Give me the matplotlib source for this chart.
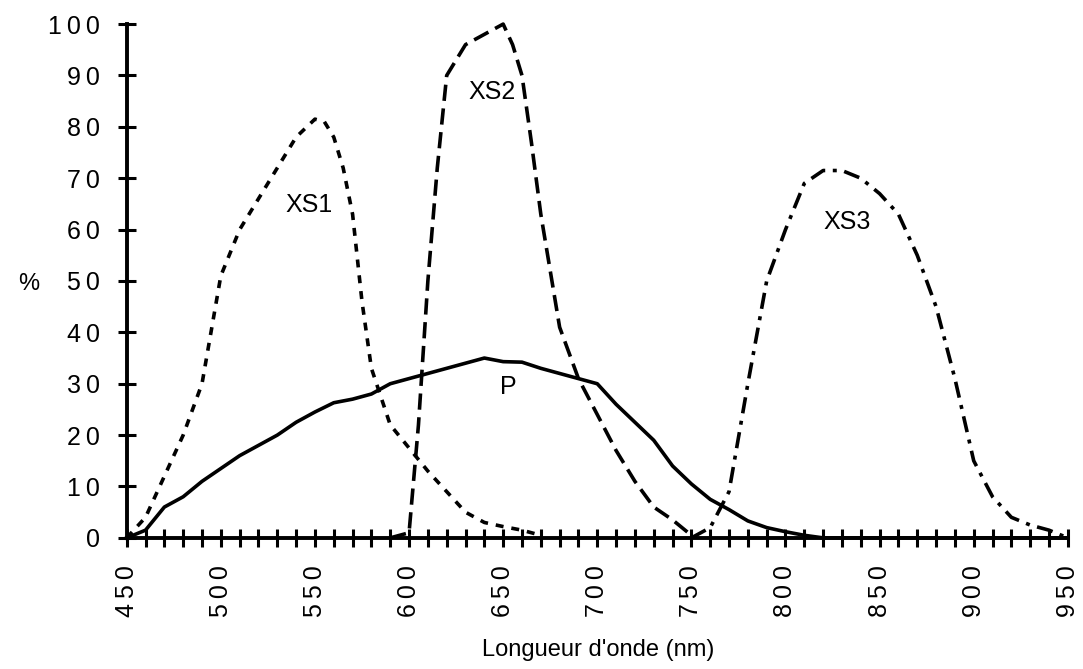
#!/usr/bin/env python3
"""Courbes de sensibilité spectrale XS1 / XS2 / XS3 et P."""

import matplotlib
matplotlib.use('Agg')
import matplotlib.pyplot as plt
from matplotlib.ticker import MultipleLocator, FixedLocator, FixedFormatter

plt.rcParams['font.family'] = ['Liberation Sans', 'DejaVu Sans']

# ── données ──
wl_xs1 = [450, 460, 470, 480, 490, 500, 510, 520, 530, 540, 550, 555, 560, 565,
          570, 575, 580, 590, 600, 610, 620, 630, 640, 650, 660, 670]
xs1 = [0, 4, 12, 20, 30, 51, 60, 66, 72, 78, 81.5, 81, 78, 72,
       63, 46, 33, 22, 17.5, 13, 9, 5, 3, 2.2, 1.5, 0.5]

wl_xs2 = [590, 600, 605, 610, 615, 620, 630, 640, 650, 655, 660, 665, 670,
          680, 690, 700, 710, 720, 730, 740, 750]
xs2 = [0, 1, 22, 50, 72, 90, 96, 98, 100, 96, 90, 77, 63,
       41, 31, 24, 17, 11, 6, 3.5, 0.5]

wl_xs3 = [750, 760, 770, 780, 790, 800, 810, 820, 830, 840, 850, 860, 870,
          880, 890, 900, 910, 920, 930, 940, 950]
xs3 = [0, 2, 9, 30, 50, 60, 69, 71.5, 71.5, 70, 67, 63, 55,
       45, 31, 15, 8, 4, 2.5, 1.5, 0]

wl_p = [450, 460, 470, 480, 490, 500, 510, 520, 530, 540, 550, 560, 570, 580,
        590, 600, 610, 620, 630, 640, 650, 660, 670, 680, 690, 700, 710, 720,
        730, 740, 750, 760, 770, 780, 790, 800, 810, 820, 950]
p = [0, 1.5, 6, 8, 11, 13.5, 16, 18, 20, 22.5, 24.5, 26.3, 27, 28,
     30, 31, 32, 33, 34, 35, 34.3, 34.2, 33, 32, 31, 30, 26, 22.5,
     19, 14, 10.5, 7.5, 5.5, 3.3, 2, 1.2, 0.5, 0, 0]

labels = ['XS1', 'XS2', 'XS3', 'P']
label_pos = [(547, 64.8), (644, 86.8), (833, 61.5), (653, 29.4)]

y_ticks = list(range(0, 101, 10))
x_ticks = list(range(450, 951, 50))

# ── figure ──
fig = plt.figure(figsize=(10.83, 6.69), dpi=100)
ax = fig.add_axes([0.117, 0.196, 0.869, 0.768])

LW = 2.6
ax.plot(wl_p, p, color='black', lw=LW, solid_joinstyle='round', clip_on=False)
ax.plot(wl_xs1, xs1, color='black', lw=LW, linestyle=(0, (2.2, 2.2)), clip_on=False)
ax.plot(wl_xs2, xs2, color='black', lw=LW, linestyle=(0, (4.5, 2.1)), clip_on=False)
ax.plot(wl_xs3, xs3, color='black', lw=LW, linestyle=(0, (4.5, 2.1, 1.1, 2.1)), clip_on=False)

for txt, (x, y) in zip(labels, label_pos):
    ax.text(x, y, txt, fontsize=18, ha='center', va='center')

ax.set_xlim(450, 950)
ax.set_ylim(0, 100)

for s in ('top', 'right'):
    ax.spines[s].set_visible(False)
for s in ('left', 'bottom'):
    ax.spines[s].set_linewidth(2.8)

# chiffres espacés, comme sur l'original
spaced = lambda v: '\u2009'.join(str(v))
ax.yaxis.set_major_locator(FixedLocator(y_ticks))
ax.yaxis.set_major_formatter(FixedFormatter([spaced(v) for v in y_ticks]))
ax.xaxis.set_major_locator(FixedLocator(x_ticks))
ax.xaxis.set_major_formatter(FixedFormatter([spaced(v) for v in x_ticks]))
ax.xaxis.set_minor_locator(MultipleLocator(10))

ax.tick_params(axis='both', which='both', direction='inout', length=13, width=2.2,
               labelsize=18)
ax.tick_params(axis='y', pad=13)
ax.tick_params(axis='x', which='major', pad=13, labelrotation=90)

fig.text(0.017, 0.575, '%', fontsize=17, ha='left', va='center')
fig.text(0.552, 0.028, "Longueur d'onde (nm)", fontsize=17, ha='center', va='center')

fig.savefig('out.png', dpi=100, facecolor='white')
